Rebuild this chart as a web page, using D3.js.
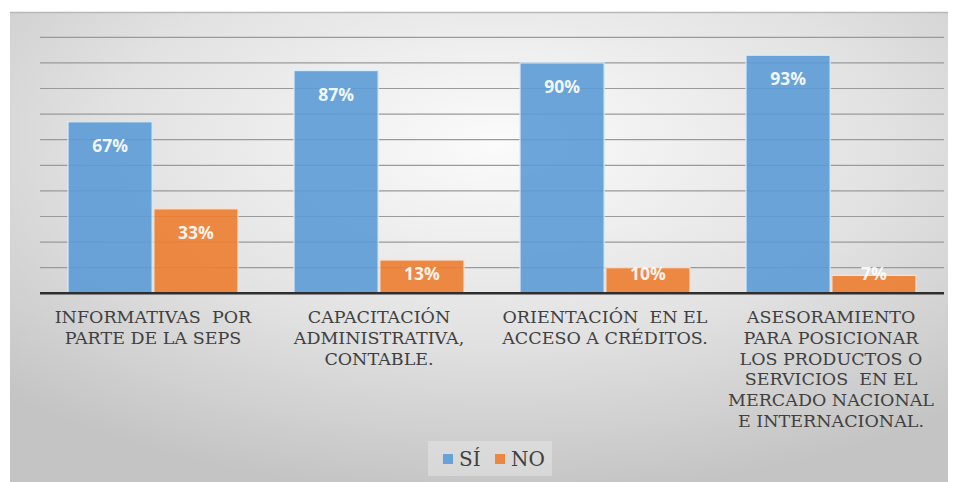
<!DOCTYPE html>
<html>
<head>
<meta charset="utf-8">
<script src="https://cdn.jsdelivr.net/npm/d3@7/dist/d3.min.js"></script>
<style>
  html, body { margin: 0; padding: 0; background: #ffffff; }
  svg { display: block; }
  .serif { font-family: "DejaVu Serif", "Liberation Serif", "Noto Serif", serif; }
</style>
</head>
<body>
<svg id="chart" width="957" height="482"></svg>
<script>
// Categories (multi-line labels) and the two answer series
const categories = [
  ["INFORMATIVAS  POR", "PARTE DE LA SEPS"],
  ["CAPACITACIÓN", "ADMINISTRATIVA,", "CONTABLE."],
  ["ORIENTACIÓN  EN EL", "ACCESO A CRÉDITOS."],
  ["ASESORAMIENTO", "PARA POSICIONAR", "LOS PRODUCTOS O", "SERVICIOS  EN EL", "MERCADO NACIONAL", "E INTERNACIONAL."]
];
const seriesNames = ["SÍ", "NO"];
const siValues = [0.67, 0.87, 0.90, 0.93];
const noValues = [0.33, 0.13, 0.10, 0.07];
const gridTicks = [0, 0.1, 0.2, 0.3, 0.4, 0.5, 0.6, 0.7, 0.8, 0.9, 1.0];
const colors = ["#5b9bd5", "#ed7d31"];

const svg = d3.select("#chart");
const W = 957, H = 482;

// Frame background with soft radial shading
const defs = svg.append("defs");
const rg = defs.append("radialGradient").attr("id", "bg")
  .attr("cx", "52%").attr("cy", "28%").attr("r", "75%");
rg.append("stop").attr("offset", "0%").attr("stop-color", "#fbfbfb");
rg.append("stop").attr("offset", "55%").attr("stop-color", "#e2e2e2");
rg.append("stop").attr("offset", "100%").attr("stop-color", "#c4c4c4");

svg.append("rect").attr("x", 10).attr("y", 12).attr("width", 938).attr("height", H - 12)
  .attr("fill", "url(#bg)");
svg.append("line").attr("x1", 10).attr("x2", 948).attr("y1", 12.5).attr("y2", 12.5)
  .attr("stroke", "#b8b8b8").attr("stroke-width", 1.5);

const plot = { left: 40, right: 944, top: 37.3, bottom: 293.3 };

const x0 = d3.scaleBand().domain(d3.range(categories.length))
  .range([plot.left, plot.right]).padding(0);
const x1 = d3.scaleBand().domain(seriesNames)
  .range([28, x0.bandwidth() - 28]).paddingInner(0.02);
const y = d3.scaleLinear().domain([0, 1]).range([plot.bottom, plot.top]);

// Horizontal gridlines
svg.append("g").selectAll("line").data(gridTicks.slice(1)).join("line")
  .attr("x1", plot.left).attr("x2", plot.right)
  .attr("y1", d => y(d)).attr("y2", d => y(d))
  .attr("stroke", "#9a9a9a").attr("stroke-width", 1.2);

// Bars
const rows = categories.map((c, i) => ({ i, vals: [siValues[i], noValues[i]] }));
const groups = svg.append("g").selectAll("g").data(rows).join("g")
  .attr("transform", d => `translate(${x0(d.i)},0)`);

groups.selectAll("rect").data(d => d.vals.map((v, k) => ({ v, k }))).join("rect")
  .attr("x", d => x1(seriesNames[d.k]))
  .attr("y", d => y(d.v))
  .attr("width", x1.bandwidth())
  .attr("height", d => y(0) - y(d.v))
  .attr("fill", d => colors[d.k])
  .attr("fill-opacity", 0.9)
  .attr("stroke", d => d.k === 0 ? "#d8ecfa" : "#fbe2d0")
  .attr("stroke-width", 1.2);

// Value labels inside the bar ends
groups.selectAll("text").data(d => d.vals.map((v, k) => ({ v, k }))).join("text")
  .attr("x", d => x1(seriesNames[d.k]) + x1.bandwidth() / 2)
  .attr("y", d => Math.min(y(d.v) + 23, y(0) - 20))
  .attr("text-anchor", "middle")
  .attr("dominant-baseline", "central")
  .style("font-family", "'Open Sans', 'DejaVu Sans', sans-serif")
  .attr("font-weight", "bold")
  .attr("font-size", 17.5)
  .attr("fill", "#ffffff")
  .attr("fill-opacity", 0.92)
  .text(d => d3.format(".0%")(d.v));

// Category axis line
svg.append("line").attr("x1", plot.left).attr("x2", plot.right)
  .attr("y1", y(0)).attr("y2", y(0))
  .attr("stroke", "#2e2e2e").attr("stroke-width", 2.5);

// Category labels
const catLabels = svg.append("g").selectAll("text").data(categories).join("text")
  .attr("class", "serif")
  .attr("x", (d, i) => x0(i) + x0.bandwidth() / 2)
  .attr("y", 323)
  .attr("text-anchor", "middle")
  .attr("font-size", 17.5)
  .attr("fill", "#404040")
  .style("white-space", "pre");
catLabels.selectAll("tspan").data(d => d).join("tspan")
  .attr("x", function () { return d3.select(this.parentNode).attr("x"); })
  .attr("dy", (d, j) => j === 0 ? 0 : 20.8)
  .text(d => d);

// Legend
const lg = svg.append("g");
lg.append("rect").attr("x", 428).attr("y", 441).attr("width", 124).attr("height", 35)
  .attr("fill", "#ebebeb").attr("fill-opacity", 0.45);
const legendItems = [{ name: seriesNames[0], x: 443 }, { name: seriesNames[1], x: 495 }];
legendItems.forEach((it, k) => {
  lg.append("rect").attr("x", it.x).attr("y", 454).attr("width", 10).attr("height", 10)
    .attr("fill", colors[k]).attr("fill-opacity", 0.9);
  lg.append("text").attr("class", "serif").attr("x", it.x + 16).attr("y", 466)
    .attr("font-size", 20).attr("fill", "#404040").text(it.name);
});
</script>
</body>
</html>
